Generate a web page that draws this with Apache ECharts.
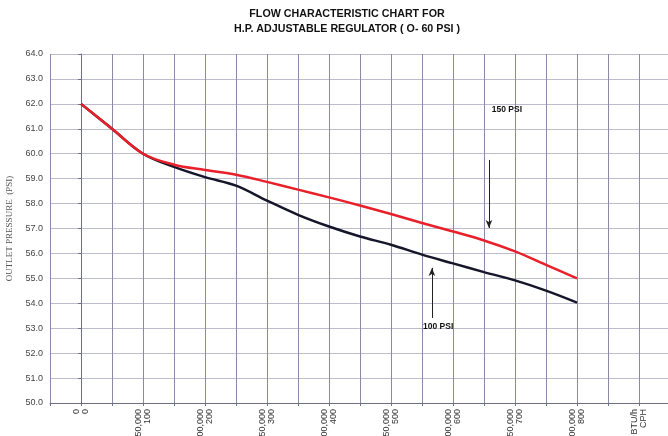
<!DOCTYPE html>
<html>
<head>
<meta charset="utf-8">
<script src="https://cdn.jsdelivr.net/npm/echarts@6/dist/echarts.min.js"></script>
<style>
html,body{margin:0;padding:0;background:#fff;}
#chart{width:668px;height:436px;}
</style>
</head>
<body>
<div id="chart"></div>
<script>
// Flow in BTU/h at each grid step
const flowBtu = [0, 25000, 50000, 75000, 100000, 125000, 150000, 175000, 200000, 225000, 250000, 275000, 300000, 325000, 350000, 375000, 400000];
// Outlet pressure (PSI) for 150 PSI inlet
const outlet150 = [62.0, 61.0, 60.0, 59.56, 59.35, 59.16, 58.87, 58.56, 58.25, 57.92, 57.58, 57.22, 56.88, 56.52, 56.08, 55.54, 55.0];
// Outlet pressure (PSI) for 100 PSI inlet
const outlet100 = [62.0, 61.0, 60.0, 59.47, 59.06, 58.72, 58.12, 57.55, 57.08, 56.68, 56.35, 55.95, 55.6, 55.25, 54.92, 54.51, 54.03];
// X tick labels (BTU/h over CPH)
const xTickValues = [0, 50000, 100000, 150000, 200000, 250000, 300000, 350000, 400000, 450000];
const xTickLabels = ['0\n0', '50,000\n100', '100,000\n200', '150,000\n300', '200,000\n400', '250,000\n500', '300,000\n600', '350,000\n700', '400,000\n800', 'BTU/h\nCPH'];
// Annotations
const label150 = [343500, 61.75];
const label100 = [288000, 53.05];
const arrow150 = [[329000, 59.75], [329000, 57.02]];
const arrow100 = [[283000, 53.41], [283000, 55.42]];

const chart = echarts.init(document.getElementById('chart'), null, {renderer: 'canvas'});
const option = {
  backgroundColor: '#ffffff',
  animation: false,
  title: {
    text: 'FLOW CHARACTERISTIC CHART FOR\nH.P. ADJUSTABLE REGULATOR ( O- 60 PSI )',
    left: 342, top: 2, textAlign: 'center',
    textStyle: {fontFamily: 'Liberation Sans, Arial', fontWeight: 'bold', fontSize: 10.7, lineHeight: 15, color: '#111'}
  },
  grid: {left: 50, right: -2, top: 54, bottom: 33, containLabel: false, outerBoundsMode: 'none'},
  xAxis: {
    type: 'value', min: -25000, max: 475000, interval: 25000,
    axisLine: {show: true, onZero: false, lineStyle: {color: '#6f6f88', width: 1}},
    axisTick: {show: true, length: 3, lineStyle: {color: '#6f6f88'}},
    splitLine: {show: true, lineStyle: {color: '#8a8aa8', width: 1}},
    axisLabel: {
      rotate: 90, margin: 6, fontSize: 9, lineHeight: 8.5, color: '#333', fontFamily: 'Liberation Sans, Arial',
      showMinLabel: true, showMaxLabel: true, hideOverlap: false,
      formatter: function (v) { const i = xTickValues.indexOf(v); return i >= 0 ? xTickLabels[i] : ''; }
    }
  },
  yAxis: {
    type: 'value', min: 50, max: 64, interval: 1,
    name: 'OUTLET PRESSURE  (PSI)', nameLocation: 'middle', nameGap: 35,
    nameTextStyle: {fontFamily: 'Liberation Serif, serif', fontSize: 9, color: '#555'},
    axisLine: {show: true, lineStyle: {color: '#6f6f88', width: 1}},
    axisTick: {show: true, length: 3, lineStyle: {color: '#6f6f88'}},
    splitLine: {show: true, lineStyle: {color: '#bcbccc', width: 1}},
    axisLabel: {fontSize: 9, color: '#444', margin: 7, fontFamily: 'Liberation Sans, Arial',
      formatter: function (v) { return v.toFixed(1); }}
  },
  series: [
    {
      name: '100 PSI', type: 'line', smooth: 0.35, symbol: 'none',
      data: flowBtu.map((x, i) => [x, outlet100[i]]),
      lineStyle: {color: '#16162a', width: 2.5},
      z: 3,
      markPoint: {
        symbol: 'circle', symbolSize: 0, silent: true,
        label: {show: true, formatter: '100 PSI', color: '#111', fontWeight: 'bold', fontSize: 8.5, fontFamily: 'Liberation Sans, Arial', position: 'inside'},
        data: [{coord: label100}]
      },
      markLine: {
        silent: true, symbol: ['none', 'arrow'], symbolSize: [5, 8],
        lineStyle: {color: '#222', width: 1, type: 'solid'}, label: {show: false},
        data: [[{coord: arrow100[0]}, {coord: arrow100[1]}]]
      }
    },
    {
      name: '150 PSI', type: 'line', smooth: 0.35, symbol: 'none',
      data: flowBtu.map((x, i) => [x, outlet150[i]]),
      lineStyle: {color: '#e8202a', width: 2.5},
      z: 4,
      markPoint: {
        symbol: 'circle', symbolSize: 0, silent: true,
        label: {show: true, formatter: '150 PSI', color: '#111', fontWeight: 'bold', fontSize: 8.5, fontFamily: 'Liberation Sans, Arial', position: 'inside'},
        data: [{coord: label150}]
      },
      markLine: {
        silent: true, symbol: ['none', 'arrow'], symbolSize: [5, 8],
        lineStyle: {color: '#222', width: 1, type: 'solid'}, label: {show: false},
        data: [[{coord: arrow150[0]}, {coord: arrow150[1]}]]
      }
    }
  ]
};
chart.setOption(option);
</script>
</body>
</html>
